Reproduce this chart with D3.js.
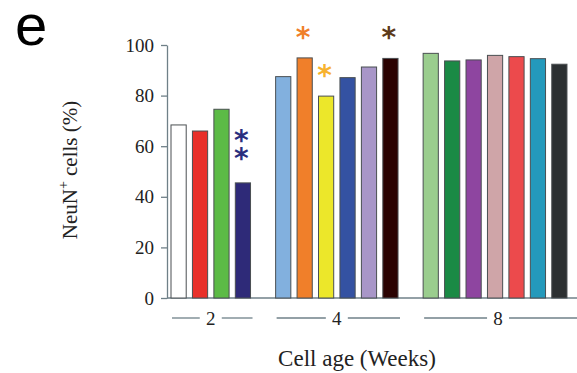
<!DOCTYPE html>
<html>
<head>
<meta charset="utf-8">
<script src="https://cdn.jsdelivr.net/npm/d3@7"></script>
<style>
  body { margin: 0; background: white; }
  svg { display: block; }
</style>
</head>
<body>
<div id="chart"></div>
<script>
// cell age groups (weeks) and how many bars in each
const groups = ['2', '4', '8'];
const groupSizes = [4, 6, 7];

// NeuN+ percentage per bar, in drawing order
const values = [68.4, 66.0, 74.6, 45.5,
                87.5, 94.9, 79.8, 87.1, 91.3, 94.7,
                96.7, 93.7, 94.1, 95.9, 95.4, 94.6, 92.4];
const colors = ['#ffffff', '#e8302a', '#5cbb46', '#2e2a78',
                '#82b0de', '#f07f2a', '#ece72a', '#3452a2', '#a896c8', '#2a0202',
                '#9acd8e', '#1a8a45', '#8e45a0', '#cfa5a8', '#ec4a4c', '#2499bb', '#2c3032'];

// significance stars: bar index, number of stars, colour
const stars = [
  { bar: 3, count: 2, color: '#2a2e7e' },
  { bar: 5, count: 1, color: '#f07f2a' },
  { bar: 6, count: 1, color: '#f7b22e' },
  { bar: 9, count: 1, color: '#5c3a1a' }
];

const yTicks = [0, 20, 40, 60, 80, 100];

const W = 577, H = 373;
const margin = { top: 45, left: 167, bottom: 75, right: 0 };
const axisColor = '#6f8088';
const serif = '"Liberation Serif", "DejaVu Serif", serif';

// bar records with group index and slot position (groups separated by a gap)
const gapSlots = 0.88;
const bars = [];
let k = 0;
groupSizes.forEach((n, g) => {
  for (let j = 0; j < n; j++) {
    bars.push({ i: k, group: g, pos: k + g * gapSlots, value: values[k], color: colors[k] });
    k++;
  }
});

const svg = d3.select('#chart').append('svg')
  .attr('width', W).attr('height', H);

const y = d3.scaleLinear().domain([0, 100]).range([298, margin.top]);
const pitch = 21.44;
const barW = 15.2;
const x = d3.scaleLinear()
  .domain([0, 1])
  .range([171, 171 + pitch]);

// y axis
const yAxis = svg.append('g')
  .attr('transform', `translate(${margin.left},0)`)
  .call(d3.axisLeft(y).tickValues(yTicks).tickSize(6).tickSizeOuter(0).tickPadding(7));
yAxis.select('.domain').attr('stroke', axisColor).attr('stroke-width', 1.3);
yAxis.selectAll('.tick line').attr('stroke', axisColor).attr('stroke-width', 1.3);
yAxis.selectAll('.tick text')
  .attr('fill', '#222')
  .style('font-family', serif)
  .style('font-size', '19px');

// baseline
svg.append('line')
  .attr('x1', margin.left).attr('x2', W)
  .attr('y1', y(0)).attr('y2', y(0))
  .attr('stroke', axisColor).attr('stroke-width', 1.3);

// bars
svg.selectAll('.bar')
  .data(bars)
  .enter().append('rect')
  .attr('class', 'bar')
  .attr('x', d => x(d.pos))
  .attr('y', d => y(d.value))
  .attr('width', barW)
  .attr('height', d => y(0) - y(d.value))
  .attr('fill', d => d.color)
  .attr('stroke', '#4a4f52')
  .attr('stroke-width', 1);

// stars, stacked upward from just above the bar (one text element per bar)
const starSize = 28;
const starStep = 18;
stars.forEach(s => {
  const b = bars[s.bar];
  const cx = x(b.pos) + barW / 2 - 1.5;
  const lowest = y(b.value) - (s.count === 1 ? 24 : 28);
  const topCenter = lowest - (s.count - 1) * starStep;
  const t = svg.append('text')
    .attr('text-anchor', 'middle')
    .attr('fill', s.color)
    .style('font-family', '"DejaVu Sans", sans-serif')
    .style('font-size', starSize + 'px')
    .style('font-weight', 'bold');
  for (let n = 0; n < s.count; n++) {
    t.append('tspan')
      .attr('x', cx)
      .attr('y', topCenter + n * starStep + starSize * 0.46)
      .text('*');
  }
});

// group labels with lines
const labelY = 318;
groups.forEach((g, gi) => {
  const gb = bars.filter(b => b.group === gi);
  const x0 = x(gb[0].pos) + 1;
  const x1 = gi === groups.length - 1 ? W : x(gb[gb.length - 1].pos) + barW + 2;
  const cx = (x(gb[0].pos) + x(gb[gb.length - 1].pos) + barW) / 2 + (gi === 2 ? 3 : 0);
  const half = 11;
  svg.append('line')
    .attr('x1', x0).attr('x2', cx - half)
    .attr('y1', labelY).attr('y2', labelY)
    .attr('stroke', axisColor).attr('stroke-width', 1.3);
  svg.append('line')
    .attr('x1', cx + half).attr('x2', x1)
    .attr('y1', labelY).attr('y2', labelY)
    .attr('stroke', axisColor).attr('stroke-width', 1.3);
  svg.append('text')
    .attr('x', cx).attr('y', labelY + 7)
    .attr('text-anchor', 'middle')
    .attr('fill', '#222')
    .style('font-family', serif)
    .style('font-size', '19px')
    .text(g);
});

// axis titles
svg.append('text')
  .attr('x', 357).attr('y', 366)
  .attr('text-anchor', 'middle')
  .attr('fill', '#222')
  .style('font-family', serif)
  .style('font-size', '23px')
  .text('Cell age (Weeks)');

const yLab = svg.append('text')
  .attr('transform', 'translate(77,170) rotate(-90)')
  .attr('text-anchor', 'middle')
  .attr('fill', '#222')
  .style('font-family', serif)
  .style('font-size', '21px');
yLab.append('tspan').text('NeuN');
yLab.append('tspan').attr('dy', -9).style('font-size', '14px').text('+');
yLab.append('tspan').attr('dy', 9).text(' cells (%)');

// panel letter
svg.append('text')
  .attr('x', 15).attr('y', 45)
  .attr('fill', '#000')
  .style('font-family', '"Liberation Sans", Arial, sans-serif')
  .style('font-size', '58px')
  .text('e');
</script>
</body>
</html>
